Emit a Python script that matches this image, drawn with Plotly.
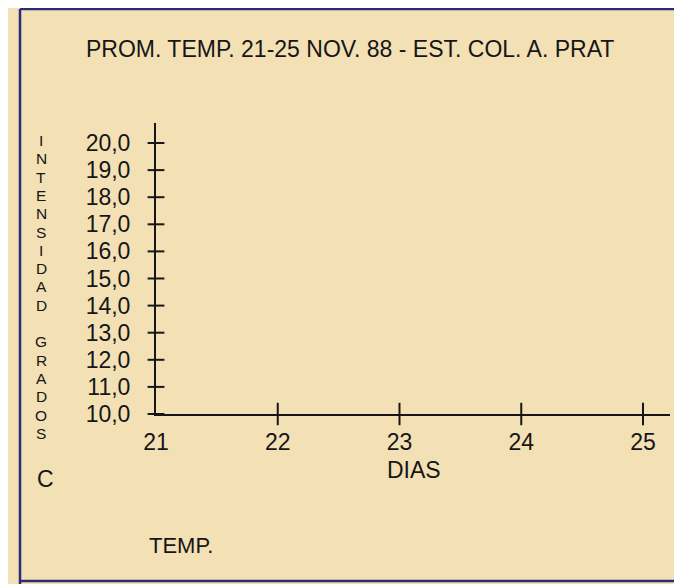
import plotly.graph_objects as go

# ---- data / labels ----
title_text = "PROM. TEMP. 21-25 NOV. 88 - EST. COL. A. PRAT"
dias = [21, 22, 23, 24, 25]
dias_labels = ["21", "22", "23", "24", "25"]
temp_ticks = [10, 11, 12, 13, 14, 15, 16, 17, 18, 19, 20]
temp_labels = ["10,0", "11,0", "12,0", "13,0", "14,0", "15,0",
               "16,0", "17,0", "18,0", "19,0", "20,0"]
x_title = "DIAS"
y_title_letters = list("INTENSIDAD GRADOS")
unit_text = "C"
legend_text = "TEMP."

OFF = 8  # page body margin
W, H = 682, 584
L, R, T, B = 156 - OFF, 670 - OFF, 123 - OFF, 414 - OFF  # plot area px
BG = "#f3e0b5"
INK = "#161616"
FONT = "Liberation Sans, Arial, sans-serif"


def px(x):
    return (x - OFF - L) / (R - L)


def py(y):
    return (B - (y - OFF)) / (B - T)


fig = go.Figure()

# crossing tick marks on the y axis
fig.add_trace(go.Scatter(
    x=[dias[0]] * len(temp_ticks), y=temp_ticks, mode="markers",
    marker=dict(symbol="line-ew", size=12, line=dict(width=2, color=INK)),
    cliponaxis=False, hoverinfo="skip", showlegend=False))
# crossing tick marks on the x axis (not at origin)
fig.add_trace(go.Scatter(
    x=dias[1:], y=[temp_ticks[0]] * (len(dias) - 1), mode="markers",
    marker=dict(symbol="line-ns", size=16, line=dict(width=2, color=INK)),
    cliponaxis=False, hoverinfo="skip", showlegend=False))

fig.update_layout(
    width=W, height=H,
    margin=dict(l=L, r=W - R, t=T, b=H - B, pad=0),
    paper_bgcolor=BG, plot_bgcolor=BG,
    showlegend=False,
    font=dict(family=FONT, color=INK),
    xaxis=dict(
        range=[21, 21 + (R - L) / 121.75], tickvals=dias, ticktext=dias_labels,
        showgrid=False, zeroline=False, showline=True, linewidth=2,
        linecolor=INK, ticks="", tickfont=dict(size=23, color=INK),
        ticklabelstandoff=6, fixedrange=True),
    yaxis=dict(
        range=[10, 10 + (B - T) / 27.1], tickvals=temp_ticks,
        ticktext=temp_labels, showgrid=False, zeroline=False,
        showline=True, linewidth=2, linecolor=INK, ticks="",
        tickfont=dict(size=23, color=INK), ticklabelstandoff=19,
        fixedrange=True),
)

ann = []
ann.append(dict(text=title_text, x=px(350), y=py(49), font=dict(size=23)))
ann.append(dict(text=x_title, x=px(414), y=py(470), font=dict(size=23)))
ann.append(dict(text=unit_text, x=px(45), y=py(479), font=dict(size=23)))
ann.append(dict(text=legend_text, x=px(181), y=py(545), font=dict(size=22)))
for a in ann:
    a["font"].update(family=FONT, color=INK)
for i, ch in enumerate(y_title_letters):
    if ch.strip():
        ann.append(dict(text=ch, x=px(41), y=py(140 + i * 18.3),
                        height=16, borderpad=0,
                        font=dict(size=15.5, family=FONT, color=INK)))
for a in ann:
    a.update(xref="paper", yref="paper", showarrow=False,
             xanchor="center", yanchor="middle")
fig.update_layout(annotations=ann)

# blue frame of the printed figure
FRAME = "#2c2b78"
fig.add_shape(type="line", xref="paper", yref="paper",
              x0=px(20), x1=px(20), y0=py(9), y1=py(600),
              line=dict(color=FRAME, width=2.5))
fig.add_shape(type="line", xref="paper", yref="paper",
              x0=px(20), x1=px(700), y0=py(9), y1=py(9),
              line=dict(color=FRAME, width=2.5))
fig.add_shape(type="line", xref="paper", yref="paper",
              x0=px(20), x1=px(700), y0=py(581), y1=py(581),
              line=dict(color=FRAME, width=2.5))

fig.write_html("out.html")
